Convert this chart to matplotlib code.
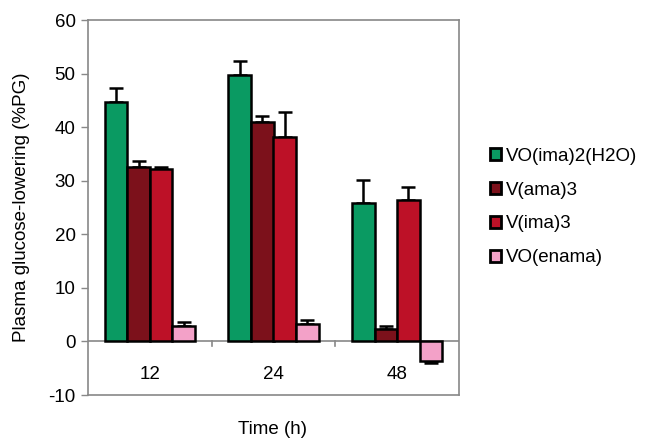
import numpy as np
import matplotlib
matplotlib.use('Agg')
import matplotlib.pyplot as plt

plt.rcParams['font.family'] = ['Liberation Sans', 'DejaVu Sans']
plt.rcParams['axes.unicode_minus'] = False

# Data
times = ['12', '24', '48']
series = ['VO(ima)2(H2O)', 'V(ama)3', 'V(ima)3', 'VO(enama)']
values = [
    [44.7, 49.7, 25.8],   # VO(ima)2(H2O)
    [32.6, 41.0, 2.3],    # V(ama)3
    [32.1, 38.1, 26.4],   # V(ima)3
    [2.8, 3.3, -3.7],     # VO(enama)
]
errors = [
    [2.7, 2.7, 4.3],
    [1.0, 1.1, 0.5],
    [0.4, 4.7, 2.5],
    [0.8, 0.7, 0.3],
]
colors = ['#0a9a62', '#7c111b', '#bd1127', '#f3a1c8']

fs = 13.5

fig = plt.figure(figsize=(6.55, 4.41), dpi=100)
ax = fig.add_axes([88 / 655, 46 / 441, 371 / 655, 375 / 441])

x = np.arange(len(times))
w = 0.183
for i in range(len(series)):
    vals = np.array(values[i])
    err = np.array(errors[i])
    # error bars only on the outward side
    yerr = np.vstack([np.where(vals < 0, err, 0), np.where(vals >= 0, err, 0)])
    ax.bar(x + (i - 1.5) * w, vals, width=w, color=colors[i], edgecolor='black',
           linewidth=1.8, label=series[i], zorder=3,
           yerr=yerr, error_kw=dict(ecolor='black', elinewidth=1.8, capsize=5, capthick=1.8, zorder=2))

ax.set_xlim(-0.5, 2.5)
ax.set_ylim(-10, 60)
ax.set_yticks(np.arange(-10, 61, 10))
ax.tick_params(axis='y', labelsize=fs, direction='out', color='#888888', length=5, width=1, pad=4)
ax.set_xticks([])

for s in ax.spines.values():
    s.set_color('#888888')
    s.set_linewidth(1.2)

# category axis crossing at zero
ax.axhline(0, color='#888888', linewidth=1.2, zorder=1)
for b in [0.5, 1.5]:
    ax.plot([b, b], [0, -0.9], color='#888888', linewidth=1.2, zorder=1)
for xi, t in zip(x, times):
    ax.text(xi, -6.2, t, ha='center', va='center', fontsize=fs)

ax.set_ylabel('Plasma glucose-lowering (%PG)', fontsize=fs, labelpad=13)
fig.text(273 / 655, 1 - 430 / 441, 'Time (h)', ha='center', va='center', fontsize=fs)

fig.legend(loc='center left', bbox_to_anchor=(482 / 655, 1 - 207 / 441), frameon=False,
           fontsize=fs, handlelength=0.6, handleheight=0.6, handletextpad=0.3,
           labelspacing=0.9, borderaxespad=0)
for h in fig.legends[0].legend_handles:
    h.set_linewidth(2)

fig.savefig('out.png', dpi=100)
